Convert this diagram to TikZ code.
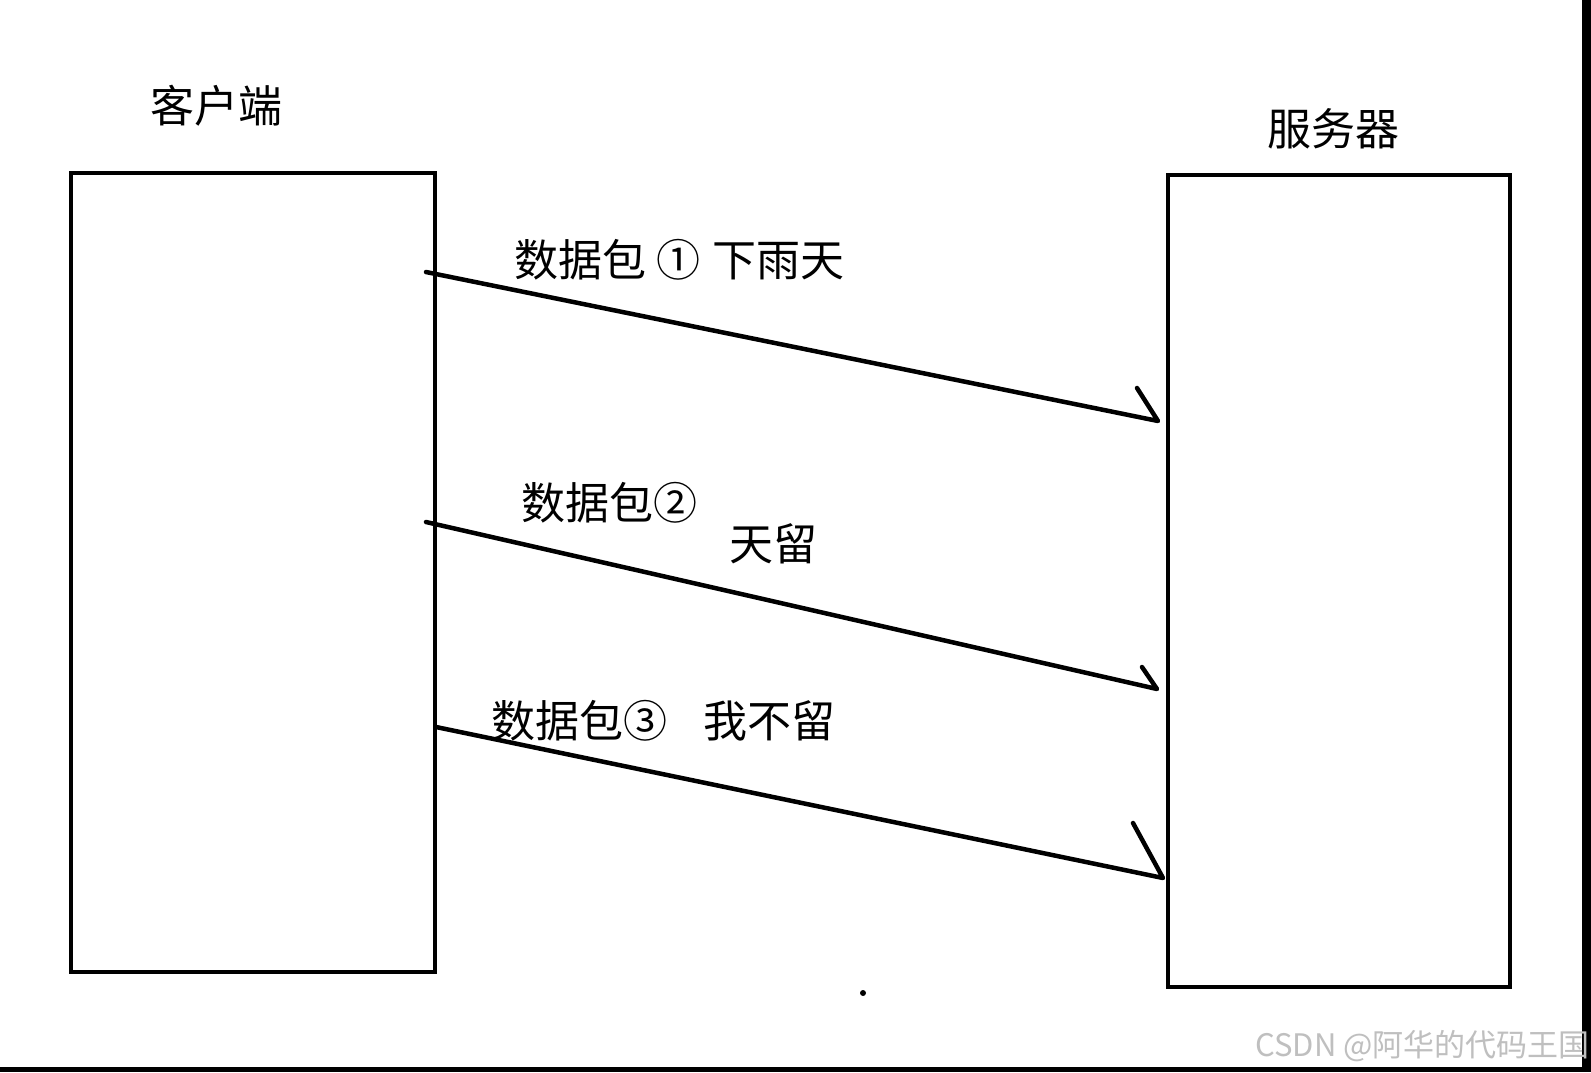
\documentclass[tikz,border=0pt]{standalone}
\usepackage{fontspec}
\setmainfont{Noto Sans CJK SC}
\begin{document}
\begin{tikzpicture}[x=1pt,y=-1pt,
  box/.style={draw=black,line width=4.5pt,fill=none,inner sep=0pt},
  conn/.style={draw=black,line width=4.5pt,line join=round,line cap=round},
  lbl/.style={inner sep=0pt,font=\fontsize{44pt}{50pt}\selectfont},
  wm/.style={inner sep=0pt,text=black!25,font=\fontsize{31pt}{36pt}\selectfont}]
\useasboundingbox (0,0) rectangle (1591,1072);
\fill[white] (0,0) rectangle (1591,1072);
% screenshot border bands
\fill[black] (0,1067) rectangle (1591,1072);
\fill[black] (1582,0) rectangle (1591,1072);
% boxes
\node[box,minimum width=364pt,minimum height=799pt] (client) at (253,572.5) {};
\node[box,minimum width=342pt,minimum height=812pt] (server) at (1339,581) {};
% titles
\node[lbl] (tc) at (216,106) {客户端};
\node[lbl] (ts) at (1333,129) {服务器};
% arrow coordinates
\coordinate (a1s) at (426,272);
\coordinate (a1e) at (1158,421);
\coordinate (a1b) at (1137,388);
\coordinate (a2s) at (426,522);
\coordinate (a2e) at (1157,689);
\coordinate (a2b) at (1142,667);
\coordinate (a3s) at (436,727);
\coordinate (a3e) at (1163,878);
\coordinate (a3b) at (1133,823);
\draw[conn] (a1s) -- (a1e) -- (a1b);
\draw[conn] (a2s) -- (a2e) -- (a2b);
\draw[conn] (a3s) -- (a3e) -- (a3b);
% labels
\node[lbl,anchor=west] (l1) at (514,260) {数据包\hspace{10pt}①\hspace{12pt}下雨天};
\node[lbl,anchor=west] (l2) at (521,503) {数据包②};
\node[lbl] (l2b) at (773,544) {天留};
\node[lbl,anchor=west] (l3) at (491,721) {数据包③\hspace{36pt}我不留};
% stray dot
\fill[black] (863,993) circle (3pt);
% watermark
\node[wm,anchor=east] (wmk) at (1590,1046) {CSDN @阿华的代码王国};
\end{tikzpicture}
\end{document}
